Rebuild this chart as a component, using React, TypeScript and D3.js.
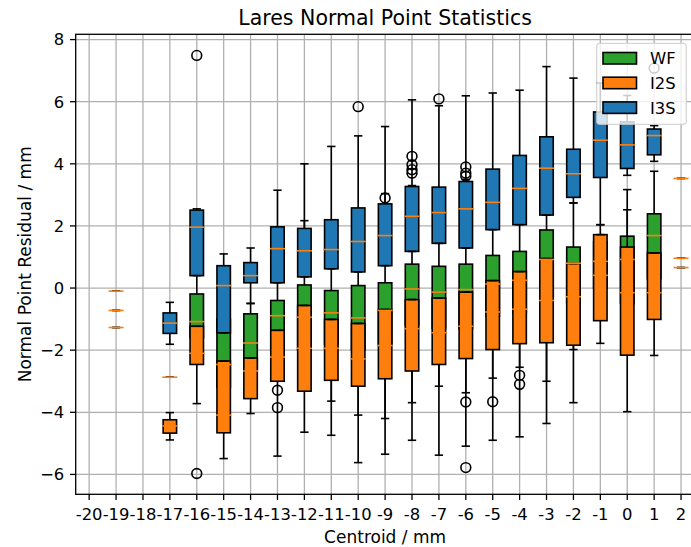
import { range, scaleLinear } from "d3";

// [centroid, whiskerLow, q1, median, q3, whiskerHigh, fliers]
type BoxStat = [number, number, number, number, number, number, number[]];

const centroidTicks = range(-20, 3);
const residualTicks = [-6, -4, -2, 0, 2, 4, 6, 8];

const wfStats: BoxStat[] = [
  [-19, -0.72, -0.72, -0.72, -0.72, -0.72, []],
  [-17, -2.87, -2.87, -2.87, -2.87, -2.87, []],
  [-16, -2.2, -1.6, -1.08, -0.19, 0.8, []],
  [-15, -4.2, -3.2, -2.46, -1.0, 0.0, []],
  [-14, -3.2, -2.6, -1.77, -0.83, -0.5, []],
  [-13, -2.9, -2.0, -0.89, -0.4, 0.3, [-3.29, -3.85]],
  [-12, -2.9, -2.0, -0.94, 0.1, 2.17, []],
  [-11, -3.64, -1.8, -0.8, -0.08, 1.0, []],
  [-10, -4.09, -2.0, -0.96, 0.08, 1.2, []],
  [-9, -4.2, -1.8, -0.72, 0.17, 3.04, [2.9]],
  [-8, -3.69, -1.2, -0.03, 0.77, 3.3, [4.24, 3.97, 3.81, 3.7]],
  [-7, -3.16, -1.3, -0.13, 0.7, 1.8, []],
  [-6, -3.37, -1.3, -0.05, 0.77, 3.5, [3.9, 3.7, 3.6, -3.67]],
  [-5, -2.9, -0.9, 0.13, 1.05, 2.0, [-3.66]],
  [-4, -2.55, -0.8, 0.25, 1.18, 2.2, [-2.81, -3.1]],
  [-3, -3.0, -0.3, 0.92, 1.87, 2.5, []],
  [-2, -1.98, -0.5, 0.8, 1.32, 2.74, []],
  [-1, -0.9, 0.0, 0.86, 1.5, 2.04, []],
  [0, -1.5, -0.5, 0.92, 1.67, 3.17, []],
  [1, -0.5, 0.3, 1.69, 2.39, 3.76, []],
  [2, 0.96, 0.96, 0.96, 0.96, 0.96, []]
];

const i2sStats: BoxStat[] = [
  [-19, -1.27, -1.27, -1.27, -1.27, -1.27, []],
  [-17, -4.89, -4.67, -4.44, -4.24, -4.01, []],
  [-16, -3.72, -2.46, -2.1, -1.23, -1.23, [-5.97]],
  [-15, -5.49, -4.66, -4.09, -2.35, -2.35, []],
  [-14, -4.04, -3.56, -2.67, -2.25, -2.25, []],
  [-13, -5.41, -3.0, -2.22, -1.36, -1.36, []],
  [-12, -4.64, -3.32, -1.94, -0.56, -0.56, []],
  [-11, -4.74, -2.97, -1.94, -1.01, -1.01, []],
  [-10, -5.62, -3.16, -2.28, -1.14, -1.14, []],
  [-9, -5.35, -2.92, -1.85, -0.69, -0.69, []],
  [-8, -4.9, -2.67, -1.31, -0.37, -0.37, []],
  [-7, -5.38, -2.46, -1.44, -0.32, -0.32, []],
  [-6, -5.09, -2.27, -1.23, -0.13, -0.13, [-5.78]],
  [-5, -4.9, -1.98, -0.77, 0.24, 0.24, []],
  [-4, -4.79, -1.79, -0.68, 0.53, 0.53, []],
  [-3, -4.36, -1.76, -0.4, 0.95, 0.95, []],
  [-2, -3.69, -1.84, -0.28, 0.79, 0.79, []],
  [-1, -1.78, -1.05, 0.41, 1.72, 1.72, []],
  [0, -3.98, -2.16, -0.15, 1.32, 2.52, []],
  [1, -2.17, -1.01, -0.15, 1.13, 1.13, []],
  [2, 0.66, 0.66, 0.66, 0.66, 0.66, []]
];

const i3sStats: BoxStat[] = [
  [-19, -0.1, -0.1, -0.1, -0.1, -0.1, []],
  [-17, -1.81, -1.46, -1.13, -0.8, -0.46, []],
  [-16, 0.4, 0.4, 1.96, 2.51, 2.55, [7.49]],
  [-15, -1.44, -1.44, 0.08, 0.72, 1.1, []],
  [-14, -0.49, 0.17, 0.4, 0.82, 1.29, []],
  [-13, 0.17, 0.17, 1.27, 1.97, 3.15, []],
  [-12, 0.36, 0.36, 1.2, 1.92, 4.0, []],
  [-11, 0.62, 0.62, 1.24, 2.2, 4.56, []],
  [-10, 0.52, 0.52, 1.5, 2.58, 4.9, [5.84]],
  [-9, 0.72, 0.72, 1.69, 2.71, 5.2, []],
  [-8, 1.18, 1.18, 2.31, 3.27, 6.06, []],
  [-7, 1.44, 1.44, 2.43, 3.25, 5.87, [6.09]],
  [-6, 1.29, 1.29, 2.55, 3.43, 6.19, []],
  [-5, 1.88, 1.88, 2.76, 3.83, 6.28, []],
  [-4, 2.04, 2.04, 3.21, 4.27, 6.37, []],
  [-3, 2.35, 2.35, 3.86, 4.87, 7.13, []],
  [-2, 2.74, 2.92, 3.68, 4.47, 6.76, []],
  [-1, 2.04, 3.56, 4.76, 5.67, 6.6, []],
  [0, 3.63, 3.85, 4.61, 5.35, 6.2, []],
  [1, 4.08, 4.29, 4.91, 5.12, 5.23, [7.08]],
  [2, 3.53, 3.53, 3.53, 3.53, 3.53, []]
];

const seriesNames = ["WF", "I2S", "I3S"];
const seriesColors = ["#2ca02c", "#ff7f0e", "#1f77b4"];
const seriesStats = [wfStats, i2sStats, i3sStats];

const width = 691;
const height = 547;
const plot = { left: 75.7, right: 694.5, top: 34.3, bottom: 494.3 };
const font = "'DejaVu Sans', sans-serif";
const tickSize = 16.4;
const labelSize = 17;
const lw = 1.6;
const boxWidth = 0.5;

const x = scaleLinear().domain([-20.5, 2.5]).range([plot.left, plot.right]);
const y = scaleLinear().domain([-6.64, 8.17]).range([plot.bottom, plot.top]);

function BoxGroup({ stat, color }: { stat: BoxStat; color: string }) {
  const [pos, lo, q1, , q3, hi, fliers] = stat;
  const x0 = x(pos - boxWidth / 2);
  const x1 = x(pos + boxWidth / 2);
  const cx = x(pos);
  const capHalf = x(boxWidth / 4) - x(0);
  return (
    <g>
      <rect
        x={x0}
        y={y(q3)}
        width={x1 - x0}
        height={Math.max(y(q1) - y(q3), 0)}
        fill={color}
        stroke="#000"
        strokeWidth={lw}
      />
      <line x1={cx} x2={cx} y1={y(q1)} y2={y(lo)} stroke="#000" strokeWidth={lw} />
      <line x1={cx} x2={cx} y1={y(q3)} y2={y(hi)} stroke="#000" strokeWidth={lw} />
      <line x1={cx - capHalf} x2={cx + capHalf} y1={y(lo)} y2={y(lo)} stroke="#000" strokeWidth={lw} strokeLinecap="square" />
      <line x1={cx - capHalf} x2={cx + capHalf} y1={y(hi)} y2={y(hi)} stroke="#000" strokeWidth={lw} strokeLinecap="square" />
      {fliers.map((f, i) => (
        <circle key={i} cx={cx} cy={y(f)} r={4.9} fill="none" stroke="#000" strokeWidth={lw} />
      ))}
    </g>
  );
}

export default function App() {
  const legendX = 596.7;
  const legendY = 43.3;
  return (
    <>
      <style>{"body{margin:0}"}</style>
      <svg width={width} height={height} style={{ display: "block", background: "#fff" }}>
        <rect width={width} height={height} fill="#fff" />
        <g stroke="#b0b0b0" strokeWidth={1.3}>
          {centroidTicks.map((t) => (
            <line key={`gx${t}`} x1={x(t)} x2={x(t)} y1={plot.top} y2={plot.bottom} />
          ))}
          {residualTicks.map((t) => (
            <line key={`gy${t}`} x1={plot.left} x2={plot.right} y1={y(t)} y2={y(t)} />
          ))}
        </g>
        {seriesStats.map((stats, si) => (
          <g key={seriesNames[si]}>
            {stats.map((s) => (
              <BoxGroup key={s[0]} stat={s} color={seriesColors[si]} />
            ))}
          </g>
        ))}
        {seriesStats.map((stats, si) => (
          <g key={`med${si}`} stroke="#ff7f0e" strokeWidth={lw} strokeLinecap="square">
            {stats.map((s) => (
              <line
                key={s[0]}
                x1={x(s[0] - boxWidth / 2)}
                x2={x(s[0] + boxWidth / 2)}
                y1={y(s[3])}
                y2={y(s[3])}
              />
            ))}
          </g>
        ))}
        <rect
          x={plot.left}
          y={plot.top}
          width={plot.right - plot.left}
          height={plot.bottom - plot.top}
          fill="none"
          stroke="#000"
          strokeWidth={1.3}
        />
        <g stroke="#000" strokeWidth={1.3}>
          {centroidTicks.map((t) => (
            <line key={`tx${t}`} x1={x(t)} x2={x(t)} y1={plot.bottom} y2={plot.bottom + 5.7} />
          ))}
          {residualTicks.map((t) => (
            <line key={`ty${t}`} x1={plot.left - 5.7} x2={plot.left} y1={y(t)} y2={y(t)} />
          ))}
        </g>
        <g fontFamily={font} fontSize={tickSize} fill="#000">
          {centroidTicks.map((t) => (
            <text key={`lx${t}`} x={x(t)} y={520} textAnchor="middle">
              {String(t)}
            </text>
          ))}
          {residualTicks.map((t) => (
            <text key={`ly${t}`} x={64.3} y={y(t) + 5.9} textAnchor="end">
              {t < 0 ? `\u2212${-t}` : String(t)}
            </text>
          ))}
          <text x={(plot.left + plot.right) / 2} y={543} textAnchor="middle" fontSize={labelSize}>
            Centroid / mm
          </text>
          <text
            transform={`translate(31,${(plot.top + plot.bottom) / 2}) rotate(-90)`}
            textAnchor="middle"
            fontSize={labelSize}
          >
            Normal Point Residual / mm
          </text>
          <text x={(plot.left + plot.right) / 2} y={25} textAnchor="middle" fontSize={20.5}>
            Lares Normal Point Statistics
          </text>
        </g>
        <g>
          <rect
            x={legendX}
            y={legendY}
            width={89.6}
            height={81}
            rx={3.3}
            fill="#fff"
            fillOpacity={0.8}
            stroke="#cccccc"
            strokeOpacity={0.8}
            strokeWidth={1.3}
          />
          {seriesNames.map((name, i) => {
            const cy = 58.3 + i * 24.7;
            return (
              <g key={name}>
                <rect
                  x={603}
                  y={cy - 5.8}
                  width={33.5}
                  height={11.5}
                  fill={seriesColors[i]}
                  stroke="#000"
                  strokeWidth={lw}
                />
                <text x={650} y={cy + 5.9} fontFamily={font} fontSize={tickSize}>
                  {name}
                </text>
              </g>
            );
          })}
        </g>
      </svg>
    </>
  );
}
